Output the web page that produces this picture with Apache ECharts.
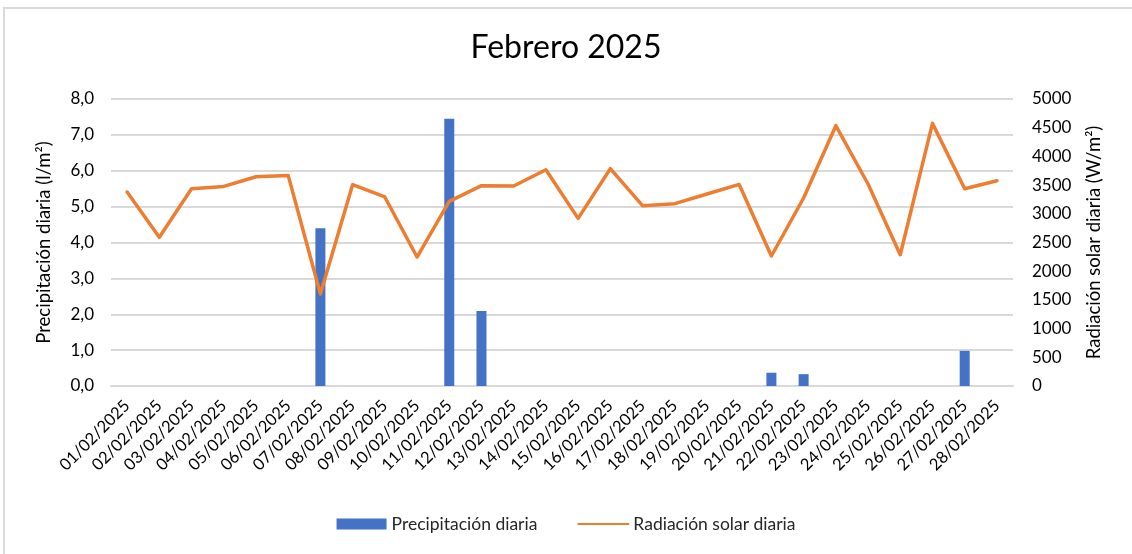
<!DOCTYPE html>
<html>
<head>
<meta charset="utf-8">
<script src="https://cdn.jsdelivr.net/npm/echarts@6/dist/echarts.min.js"></script>
<style>
  html, body { margin: 0; padding: 0; background: #fff; }
  #wrap { position: relative; width: 1132px; height: 554px; overflow: hidden; }
  #frame { position: absolute; left: 3px; top: 7px; width: 1200px; height: 600px;
           border-left: 2px solid #d9d9d9; border-top: 2px solid #d9d9d9; }
  #chart { position: absolute; left: 0; top: 0; width: 1132px; height: 554px; }
</style>
</head>
<body>
<div id="wrap">
  <div id="frame"></div>
  <div id="chart"></div>
</div>
<script>
const days = [
  '01/02/2025', '02/02/2025', '03/02/2025', '04/02/2025', '05/02/2025', '06/02/2025', '07/02/2025',
  '08/02/2025', '09/02/2025', '10/02/2025', '11/02/2025', '12/02/2025', '13/02/2025', '14/02/2025',
  '15/02/2025', '16/02/2025', '17/02/2025', '18/02/2025', '19/02/2025', '20/02/2025', '21/02/2025',
  '22/02/2025', '23/02/2025', '24/02/2025', '25/02/2025', '26/02/2025', '27/02/2025', '28/02/2025'
]
// l/m2
const precipitacion = [
  0, 0, 0, 0, 0, 0, 4.4, 0, 0, 0, 7.45, 2.09, 0, 0,
  0, 0, 0, 0, 0, 0, 0.37, 0.33, 0, 0, 0, 0, 0.98, 0
]
// W/m2
const radiacion = [
  3380, 2590, 3437, 3477, 3646, 3669, 1603, 3507, 3293, 2247, 3216, 3490, 3484, 3768,
  2920, 3786, 3141, 3176, 3345, 3512, 2265, 3275, 4535, 3519, 2287, 4575, 3437, 3577
]

const font = 'Lato, "DejaVu Sans", sans-serif'
const chart = echarts.init(document.getElementById('chart'))
chart.setOption({
  animation: false,
  textStyle: { fontFamily: font },
  title: {
    text: 'Febrero 2025',
    left: 'center',
    top: 27,
    textStyle: { fontFamily: font, fontSize: 32, fontWeight: 'normal', color: '#000' }
  },
  legend: {
    bottom: 16,
    left: 'center',
    itemGap: 40,
    itemWidth: 50,
    itemHeight: 11,
    textStyle: { fontFamily: font, fontSize: 17.5, color: '#262626' },
    data: [
      { name: 'Precipitación diaria', icon: 'rect' },
      { name: 'Radiación solar diaria', itemStyle: { opacity: 0 } }
    ]
  },
  grid: { left: 111, right: 119, top: 99, bottom: 168 },
  xAxis: {
    type: 'category',
    data: days,
    axisLine: { show: true, lineStyle: { color: '#d9d9d9', width: 2 } },
    axisTick: { show: false },
    axisLabel: {
      interval: 0,
      rotate: 45,
      fontSize: 16.5,
      color: '#000',
      margin: 17
    }
  },
  yAxis: [
    {
      type: 'value',
      min: 0,
      max: 8,
      interval: 1,
      name: 'Precipitación diaria (l/m²)',
      nameLocation: 'middle',
      nameGap: 57,
      nameTextStyle: { fontSize: 18.5, color: '#000' },
      axisLine: { show: false },
      axisTick: { show: false },
      axisLabel: {
        fontSize: 17,
        color: '#000',
        margin: 17,
        formatter: v => v.toFixed(1).replace('.', ',')
      },
      splitLine: { lineStyle: { color: '#d9d9d9', width: 2 } }
    },
    {
      type: 'value',
      min: 0,
      max: 5000,
      interval: 500,
      name: 'Radiación solar diaria (W/m²)',
      nameLocation: 'middle',
      nameGap: 72,
      nameRotate: 90,
      nameTextStyle: { fontSize: 18.5, color: '#000' },
      axisLine: { show: false },
      axisTick: { show: false },
      axisLabel: { fontSize: 17, color: '#000', margin: 19, formatter: v => String(v) },
      splitLine: { show: false }
    }
  ],
  series: [
    {
      name: 'Precipitación diaria',
      type: 'bar',
      yAxisIndex: 0,
      data: precipitacion,
      barWidth: 10,
      itemStyle: { color: '#4472c4' }
    },
    {
      name: 'Radiación solar diaria',
      type: 'line',
      yAxisIndex: 1,
      data: radiacion,
      symbol: 'none',
      lineStyle: { color: '#ed7d31', width: 3.5, cap: 'round', join: 'round' },
      itemStyle: { color: '#ed7d31' }
    }
  ]
})
</script>
</body>
</html>
